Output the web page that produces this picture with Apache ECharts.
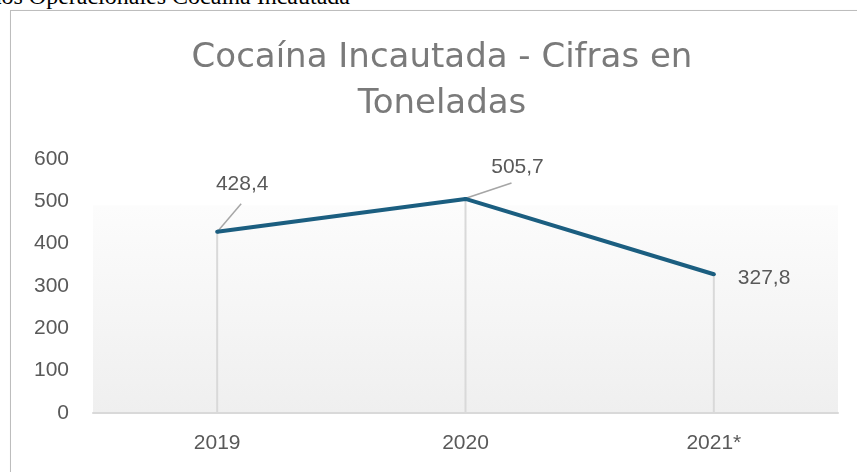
<!DOCTYPE html>
<html>
<head>
<meta charset="utf-8">
<script src="https://cdn.jsdelivr.net/npm/echarts@6/dist/echarts.min.js"></script>
<style>
    html, body {
        margin: 0;
        padding: 0;
        width: 857px;
        height: 472px;
        overflow: hidden;
        background: #fff;
    }
    .caption {
        position: absolute;
        right: 507px;
        top: -16px;
        font-family: 'Liberation Serif', serif;
        font-size: 24px;
        line-height: 24px;
        color: #000;
        white-space: nowrap;
    }
    .frame {
        position: absolute;
        left: 10px;
        top: 10px;
        width: 900px;
        height: 500px;
        border: 1px solid #bdbdbd;
        box-shadow: 1px 1px 2px rgba(0, 0, 0, 0.15);
    }
    #chart {
        position: absolute;
        left: 0;
        top: 0;
        width: 857px;
        height: 472px;
    }
</style>
</head>
<body>
<div class="caption">Resultados Operacionales Cocaína Incautada</div>
<div class="frame"></div>
<div id="chart"></div>
<script>
// datos
const years = ['2019', '2020', '2021*']
const toneladas = [428.4, 505.7, 327.8]
const yTicks = [0, 100, 200, 300, 400, 500, 600]

// desplazamiento de cada etiqueta respecto a su posicion por defecto
const labelShift = [[25, -30], [52, -14], [17, 4]]
// linea guia de la etiqueta (en px desde el punto), null = sin guia
const leaderShift = [[24, -28], [46, -16], null]

const chart = echarts.init(document.getElementById('chart'))

const labelFont = 'Liberation Sans, Arial, sans-serif'

const option = {
    animation: false,
    title: {
        text: 'Cocaína Incautada - Cifras en\nToneladas',
        left: 437,
        top: 30,
        textAlign: 'center',
        textStyle: {
            fontFamily: 'DejaVu Sans, sans-serif',
            fontSize: 34,
            fontWeight: 'normal',
            color: '#7a7a7a',
            lineHeight: 46
        }
    },
    grid: {
        left: 93,
        right: 19,
        top: 159,
        bottom: 59,
        show: true,
        borderWidth: 0,
        backgroundColor: {
            type: 'linear', x: 0, y: 0, x2: 0, y2: 1,
            colorStops: [
                { offset: 0, color: '#ffffff' },
                { offset: 0.18, color: '#ffffff' },
                { offset: 0.185, color: '#fcfcfc' },
                { offset: 1, color: '#efefef' }
            ]
        }
    },
    xAxis: {
        type: 'category',
        data: years,
        boundaryGap: true,
        axisLine: { lineStyle: { color: '#d9d9d9', width: 2 } },
        axisTick: { show: false },
        axisLabel: {
            margin: 20,
            fontFamily: labelFont,
            fontSize: 21,
            color: '#595959'
        }
    },
    yAxis: {
        type: 'value',
        min: yTicks[0],
        max: yTicks[yTicks.length - 1],
        interval: 100,
        splitLine: { show: false },
        axisLine: { show: false },
        axisTick: { show: false },
        axisLabel: {
            margin: 24,
            fontFamily: labelFont,
            fontSize: 21,
            color: '#595959'
        }
    },
    series: [
        {
            // lineas verticales de cada punto al eje
            type: 'bar',
            data: toneladas,
            barWidth: 2,
            itemStyle: { color: '#d9d9d9' },
            silent: true,
            z: 1
        },
        {
            // lineas guia de las etiquetas
            type: 'custom',
            data: toneladas.map((v, i) => [i, v]),
            encode: { x: 0, y: 1 },
            silent: true,
            z: 2,
            renderItem: (params, api) => {
                const off = leaderShift[params.dataIndex]
                if (!off) return
                const p = api.coord([api.value(0), api.value(1)])
                return {
                    type: 'line',
                    shape: { x1: p[0] + 1, y1: p[1] - 1, x2: p[0] + off[0], y2: p[1] + off[1] },
                    style: { stroke: '#a6a6a6', lineWidth: 1.5 }
                }
            }
        },
        {
            type: 'line',
            data: toneladas.map((v, i) => ({
                value: v,
                label: { position: i === toneladas.length - 1 ? 'right' : 'top' }
            })),
            symbol: 'circle',
            symbolSize: 4,
            itemStyle: { color: '#1b5e80' },
            lineStyle: { color: '#1b5e80', width: 4 },
            z: 3,
            label: {
                show: true,
                formatter: (p) => p.value.toFixed(1).replace('.', ','),
                fontFamily: labelFont,
                fontSize: 21,
                color: '#595959'
            },
            labelLayout: (params) => ({
                dx: labelShift[params.dataIndex][0],
                dy: labelShift[params.dataIndex][1]
            })
        }
    ]
}

chart.setOption(option)
window.addEventListener('resize', () => chart.resize())
</script>
</body>
</html>
